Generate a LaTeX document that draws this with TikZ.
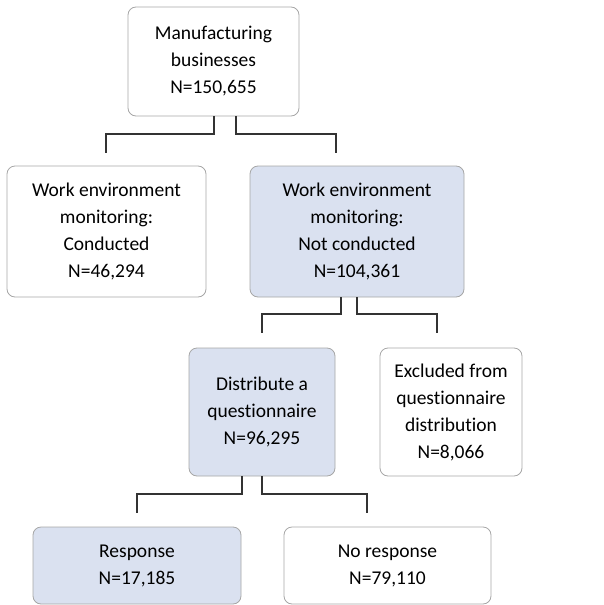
\documentclass[tikz,border=0pt]{standalone}
\usepackage{fontspec}
\setmainfont{Carlito}[Ligatures=NoCommon]
\usetikzlibrary{calc}
\definecolor{boxfill}{HTML}{DAE1F0}
\definecolor{boxline}{HTML}{A6A6A6}
\definecolor{linkline}{HTML}{333333}
\tikzset{
  flowbox/.style={draw=boxline, line width=0.8pt, rounded corners=8pt, align=center,
    inner sep=0pt, font=\fontsize{19.5}{27}\selectfont},
  bluebox/.style={flowbox, fill=boxfill},
  link/.style={draw=linkline, line width=1.6pt}
}
\begin{document}
\begin{tikzpicture}[x=1pt, y=-1pt]
\useasboundingbox (0,0) rectangle (604,605);

% Boxes of the flow chart
\node[flowbox, minimum width=171pt, minimum height=109pt] (mfg) at (213.5, 61.5) {Manufacturing\\businesses\\N=150,655};
\node[flowbox, minimum width=199pt, minimum height=131pt] (cond) at (106.5, 231.5) {Work environment\\monitoring:\\Conducted\\N=46,294};
\node[bluebox, minimum width=214pt, minimum height=131pt] (notcond) at (357, 231.5) {Work environment\\monitoring:\\Not conducted\\N=104,361};
\node[bluebox, minimum width=146pt, minimum height=128pt] (distr) at (262, 412) {Distribute a\\questionnaire\\N=96,295};
\node[flowbox, minimum width=142pt, minimum height=128pt] (excl) at (451, 412) {Excluded from\\questionnaire\\distribution\\N=8,066};
\node[bluebox, minimum width=208pt, minimum height=77pt] (resp) at (137, 565.5) {Response\\N=17,185};
\node[flowbox, minimum width=207pt, minimum height=77pt] (noresp) at (387.5, 565.5) {No response\\N=79,110};

% Free ends of the connectors
\coordinate (condin) at (106, 153);
\coordinate (notcondin) at (336, 153);
\coordinate (distrin) at (262, 333);
\coordinate (exclin) at (437, 333);
\coordinate (respin) at (137, 513);
\coordinate (norespin) at (367, 513);

% Connectors (down, across, down)
\draw[link] ($(mfg.south)+(0.5,0)$) |- ($(condin)+(0,-19)$) -- (condin);
\draw[link] ($(mfg.south)+(22.5,0)$) |- ($(notcondin)+(0,-19)$) -- (notcondin);
\draw[link] ($(notcond.south)+(-16,0)$) |- ($(distrin)+(0,-19)$) -- (distrin);
\draw[link] (notcond.south) |- ($(exclin)+(0,-19)$) -- (exclin);
\draw[link] ($(distr.south)+(-20,0)$) |- ($(respin)+(0,-19)$) -- (respin);
\draw[link] (distr.south) |- ($(norespin)+(0,-19)$) -- (norespin);
\end{tikzpicture}
\end{document}
